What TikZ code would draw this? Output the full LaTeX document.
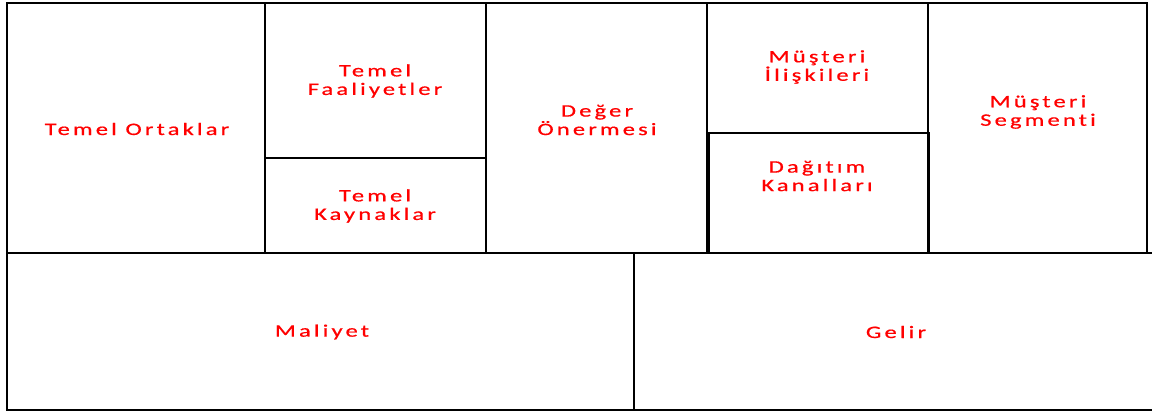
\documentclass[tikz,border=0pt]{standalone}
\usepackage{fontspec}
\usepackage{xcolor}
\newfontfamily\canvasfont[Ligatures=NoCommon,LetterSpace=13,FakeBold=0.6]{Carlito}
\usepackage{tikz}

\begin{document}
\begin{tikzpicture}[x=1pt, y=-1pt,
  cell/.style={draw=black, line width=2.2pt},
  lbl/.style={text=red, align=center, inner sep=0pt, xscale=1.4, transform shape,
    font=\canvasfont\fontsize{17.5}{18.5}\selectfont}]
\useasboundingbox (0,0) rectangle (1152,411);
\clip (0,0) rectangle (1152,411);
% top row
\draw[cell] (7,3) rectangle (265,253);
\draw[cell] (265,3) rectangle (486,158);
\draw[cell] (265,158) rectangle (486,253);
\draw[cell] (486,3) rectangle (707,253);
\draw[cell] (707,3) rectangle (928,133);
\draw[cell] (709,133) rectangle (929,253);
\draw[cell] (928,3) rectangle (1147,253);
% bottom row
\draw[cell] (7,253) rectangle (634,410);
\draw[cell] (634,253) rectangle (1165,410);
\node[lbl] (ortak)   at (137,129) {Temel Ortaklar};
\node[lbl] (faal)    at (375,81)  {Temel\\Faaliyetler};
\node[lbl] (kaynak)  at (375,206) {Temel\\Kaynaklar};
\node[lbl] (deger)   at (597,120) {Değer\\Önermesi};
\node[lbl] (iliski)  at (817,67)  {Müşteri\\İlişkileri};
\node[lbl] (kanal)   at (817,176) {Dağıtım\\Kanalları};
\node[lbl] (segment) at (1038,112){Müşteri\\Segmenti};
\node[lbl] (maliyet) at (322,332) {Maliyet};
\node[lbl] (gelir)   at (896,332) {Gelir};
\end{tikzpicture}
\end{document}
